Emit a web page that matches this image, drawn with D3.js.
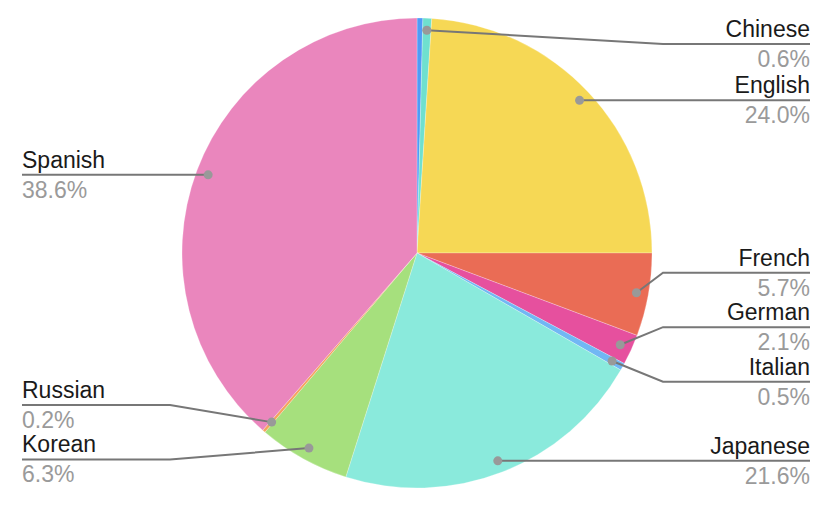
<!DOCTYPE html>
<html lang="en">
<head>
    <meta charset="UTF-8">
    <title>Languages</title>
    <style>
        body { margin: 0; background: #fff; }
    </style>
</head>
<body>
    <svg id="svg" width="830" height="510"></svg>

    <script src="https://d3js.org/d3.v7.min.js"></script>
    <script>
        // data
        const languages = ['Arabic', 'Chinese', 'English', 'French', 'German', 'Italian', 'Japanese', 'Korean', 'Russian', 'Spanish']
        const shares = [0.4, 0.6, 24.0, 5.7, 2.1, 0.5, 21.6, 6.3, 0.2, 38.6]
        const labelled = [false, true, true, true, true, true, true, true, true, true]
        const colors = ['#4f9bf6', '#6fe0cf', '#f6d855', '#ea6c55', '#e6509e', '#71b7f4', '#8aeadc', '#a6e07d', '#f4a45e', '#ea86bd']

        const data = languages.map((name, i) => ({ name, value: shares[i], show: labelled[i], color: colors[i] }))

        const cx = 417, cy = 253, radius = 235
        const dotR = 223
        const svg = d3.select('#svg')
        const g = svg.append('g').attr('transform', `translate(${cx},${cy})`)

        const pie = d3.pie().value(d => d.value).sort(null)
        const arc = d3.arc().innerRadius(0).outerRadius(radius)
        const dotArc = d3.arc().innerRadius(dotR).outerRadius(dotR)
        const arcs = pie(data)

        // slices
        g.selectAll('path.slice')
            .data(arcs)
            .enter()
            .append('path')
            .attr('class', 'slice')
            .attr('d', arc)
            .attr('fill', d => d.data.color)
            .attr('stroke', 'rgba(255,255,255,0.5)')
            .attr('stroke-width', 0.5)

        // label layout
        const labels = arcs.filter(d => d.data.show).map(d => {
            const [x, y] = dotArc.centroid(d)
            const mid = (d.startAngle + d.endAngle) / 2
            return { d, x, y, side: mid < Math.PI ? 'right' : 'left', ly: y + cy }
        })
        const gap = 54.5, minY = 44, maxY = 482
        ;['right', 'left'].forEach(side => {
            const list = labels.filter(l => l.side === side).sort((a, b) => a.y - b.y)
            list.forEach(l => { l.ly = Math.max(minY, Math.min(maxY, l.ly)) })
            for (let k = 0; k < 200; k++) {
                for (let i = 1; i < list.length; i++) {
                    const over = gap - (list[i].ly - list[i - 1].ly)
                    if (over > 0) {
                        list[i - 1].ly -= over * 0.6
                        list[i].ly += over * 0.4
                    }
                }
                list.forEach(l => { l.ly = Math.max(minY, Math.min(maxY, l.ly)) })
            }
        })

        const rightX = 810, leftX = 22, rightElbow = 663, leftElbow = 170
        const font = 'Liberation Sans, Arial, Helvetica'
        const lab = svg.append('g')
        labels.forEach(l => {
            const px = l.x + cx, py = l.y + cy
            const endX = l.side === 'right' ? rightX : leftX
            const elbowX = l.side === 'right' ? rightElbow : leftElbow
            const pts = Math.abs(py - l.ly) < 3
                ? [[px, py], [endX, l.ly]]
                : [[px, py], [elbowX, l.ly], [endX, l.ly]]
            lab.append('path')
                .attr('d', d3.line()(pts))
                .attr('stroke', '#777')
                .attr('stroke-width', 2)
                .attr('fill', 'none')
            lab.append('circle')
                .attr('cx', px)
                .attr('cy', py)
                .attr('r', 4.5)
                .attr('fill', '#999')
            const anchor = l.side === 'right' ? 'end' : 'start'
            lab.append('text')
                .text(l.d.data.name)
                .attr('x', endX)
                .attr('y', l.ly - 7)
                .attr('text-anchor', anchor)
                .style('font-family', font)
                .style('font-size', '23px')
                .attr('fill', '#1a1a1a')
            lab.append('text')
                .text(l.d.data.value.toFixed(1) + '%')
                .attr('x', endX)
                .attr('y', l.ly + 23)
                .attr('text-anchor', anchor)
                .style('font-family', font)
                .style('font-size', '23px')
                .attr('fill', '#9a9a9a')
        })
    </script>
</body>
</html>
